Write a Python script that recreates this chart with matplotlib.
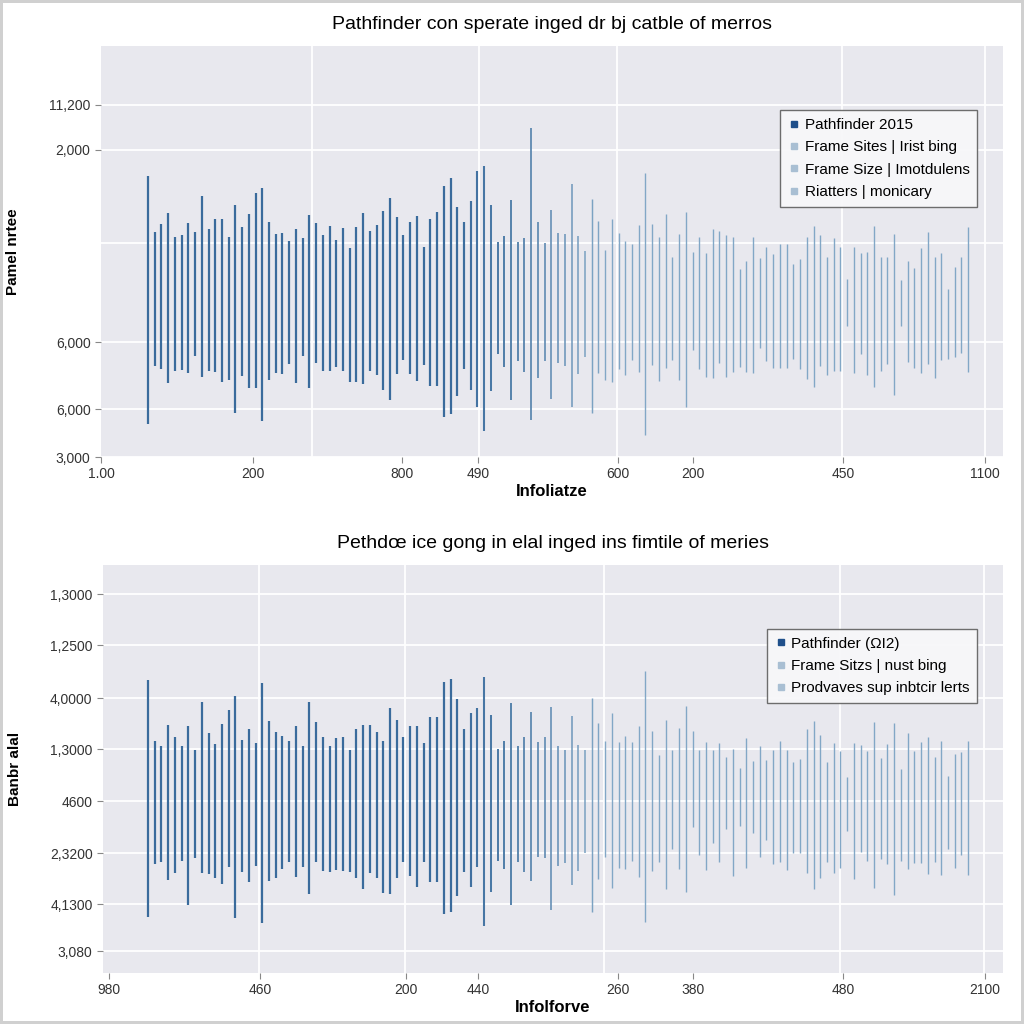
import matplotlib.pyplot as plt
from matplotlib.lines import Line2D
from matplotlib.colors import to_rgb
import numpy as np

plt.rcParams['font.family'] = ['Liberation Sans', 'DejaVu Sans']

# Верхняя панель: верх и низ каждой вертикальной линии
top_hi = [281, 225, 233, 244, 220, 222, 234, 225, 261, 228, 238, 238, 220, 252, 230, 243, 264, 269, 235, 223,
          224, 216, 228, 219, 242, 234, 222, 231, 217, 229, 209, 230, 244, 226, 232, 246, 259, 240, 222, 235,
          241, 210, 238, 245, 271, 279, 250, 235, 256, 286, 291, 252, 215, 221, 257, 215, 219, 329, 235, 214,
          247, 224, 223, 273, 221, 206, 258, 236, 207, 238, 224, 216, 213, 232, 284, 233, 220, 243, 200, 223,
          245, 205, 220, 204, 228, 226, 222, 220, 188, 196, 220, 199, 210, 203, 213, 213, 193, 198, 220, 231,
          222, 200, 219, 210, 178, 210, 204, 205, 231, 200, 200, 223, 177, 196, 189, 209, 225, 200, 204, 168,
          190, 200, 230]
top_lo = [33, 91, 88, 74, 86, 87, 84, 101, 80, 86, 85, 75, 77, 44, 81, 69, 69, 36, 77, 84,
          83, 93, 74, 101, 69, 94, 86, 86, 90, 86, 75, 75, 73, 86, 82, 67, 57, 83, 97, 83,
          76, 92, 71, 71, 40, 43, 61, 88, 67, 50, 26, 66, 103, 90, 57, 96, 85, 37, 79, 96,
          58, 94, 91, 50, 83, 100, 44, 84, 77, 75, 88, 82, 97, 85, 22, 92, 76, 89, 97, 77,
          50, 107, 88, 80, 79, 94, 80, 85, 90, 85, 84, 109, 96, 89, 89, 89, 98, 88, 78, 70,
          91, 82, 86, 86, 131, 84, 103, 82, 70, 86, 93, 62, 131, 95, 89, 84, 93, 79, 97, 98,
          100, 104, 85]

# Нижняя панель
bot_hi = [293, 232, 227, 248, 236, 227, 247, 223, 271, 240, 229, 249, 263, 277, 233, 244, 230, 290, 252, 241,
          237, 232, 247, 227, 271, 251, 236, 227, 235, 236, 223, 244, 248, 248, 241, 232, 265, 253, 236, 247,
          247, 230, 256, 256, 291, 294, 274, 244, 260, 265, 296, 258, 224, 232, 270, 227, 236, 261, 231, 236,
          266, 227, 223, 257, 228, 223, 275, 250, 232, 260, 231, 237, 231, 247, 302, 242, 218, 253, 223, 245,
          267, 242, 223, 231, 223, 230, 216, 224, 205, 235, 212, 227, 213, 223, 232, 223, 211, 214, 244, 252,
          238, 211, 230, 222, 196, 230, 228, 222, 251, 215, 229, 250, 204, 240, 222, 231, 236, 216, 232, 197,
          219, 221, 232]
bot_lo = [56, 109, 111, 93, 100, 112, 68, 115, 100, 99, 95, 89, 106, 55, 101, 91, 107, 50, 92, 95,
          104, 111, 96, 106, 79, 111, 102, 101, 103, 102, 101, 95, 84, 100, 95, 80, 79, 95, 111, 97,
          86, 111, 91, 91, 59, 61, 77, 101, 86, 106, 47, 81, 112, 104, 68, 111, 101, 92, 116, 115,
          63, 107, 110, 88, 102, 120, 61, 94, 116, 85, 105, 104, 112, 96, 51, 102, 111, 84, 124, 104,
          81, 146, 118, 103, 130, 111, 144, 97, 147, 105, 140, 116, 133, 109, 111, 103, 120, 120, 100, 84,
          95, 111, 100, 105, 142, 94, 121, 112, 85, 114, 109, 78, 112, 104, 110, 110, 99, 111, 98, 124,
          105, 118, 98]

# Подписи осей и делений
top_yticks = [0, 48, 115, 307, 352]
top_ylabels = ['3,000', '6,000', '6,000', '2,000', '11,200']
top_xticks = [-7, 15.6, 37.8, 49.1, 69.9, 81.1, 103.4, 124.5]
top_xlabels = ['1.00', '200', '800', '490', '600', '200', '450', '1100']
top_vgrid = [24.4, 49.2, 69.8, 103.3, 124.5]

bot_yticks = [22, 69, 120, 172, 224, 275, 328, 379]
bot_ylabels = ['3,080', '4,1300', '2,3200', '4600', '1,3000', '4,0000', '1,2500', '1,3000']
bot_xticks = [-5.8, 16.7, 38.4, 49.1, 69.9, 81.1, 103.4, 124.5]
bot_xlabels = ['980', '460', '200', '440', '260', '380', '480', '2100']
bot_vgrid = [16.5, 38.2, 67.8, 103.0, 124.4]

top_legend = ['Pathfinder 2015', 'Frame Sites | Irist bing', 'Frame Size | Imotdulens', 'Riatters | monicary']
bot_legend = ['Pathfinder (ΩI2)', 'Frame Sitzs | nust bing', 'Prodvaves sup inbtcir lerts']

# Цвета линий: слева тёмные, справа светлее
n = len(top_hi)
dark = np.array(to_rgb('#3a6b9c'))
light = np.array(to_rgb('#82a7c6'))
mix = np.clip((np.arange(n) - 46) / 22, 0, 1)
colors = [tuple(dark * (1 - m) + light * m) for m in mix]
widths = 1.6 - 0.6 * mix

fig = plt.figure(figsize=(10.24, 10.24), dpi=100)
fig.patch.set_edgecolor('#d0d0d0')
fig.patch.set_linewidth(3)

ax1 = fig.add_axes([0.0986, 0.5537, 0.881, 0.4014])
ax2 = fig.add_axes([0.1006, 0.0498, 0.879, 0.3984])


def setup(ax, hi, lo, yticks, ylabels, xticks, xlabels, vgrid, hgrid_extra, ylim,
          xlim, title, xlabel, ylabel, legend_labels):
    ax.set_facecolor('#e8e8ee')
    for s in ax.spines.values():
        s.set_visible(False)
    x = np.arange(len(hi))
    ax.vlines(x, lo, hi, colors=colors, linewidths=widths, zorder=3)
    ax.set_xlim(*xlim)
    ax.set_ylim(*ylim)
    ax.set_yticks(yticks)
    ax.set_yticklabels(ylabels)
    ax.set_xticks(xticks)
    ax.set_xticklabels(xlabels)
    ax.tick_params(axis='both', labelsize=10, labelcolor='#333333', color='#888888', length=4, width=0.8)
    for yv in list(yticks) + hgrid_extra:
        ax.axhline(yv, color='white', lw=1.3, zorder=1)
    for xv in vgrid:
        ax.axvline(xv, color='white', lw=1.3, zorder=1)
    ax.set_title(title, fontsize=14, pad=12)
    ax.set_xlabel(xlabel, fontsize=12, fontweight='bold', labelpad=2)
    ax.set_ylabel(ylabel, fontsize=11, fontweight='bold')
    ax.yaxis.set_label_coords(-0.09, 0.5)
    handles = []
    for i, lab in enumerate(legend_labels):
        c = '#1f4f8a' if i == 0 else '#a9bfd3'
        handles.append(Line2D([], [], marker='s', ls='none', color=c, markersize=4.5, label=lab))
    leg = ax.legend(handles=handles, loc='upper right', bbox_to_anchor=(0.98, 0.862), fontsize=11,
                    frameon=True, fancybox=False, handletextpad=0.3, handlelength=0.8,
                    labelspacing=0.55, borderpad=0.5)
    leg.get_frame().set_edgecolor('#666666')
    leg.get_frame().set_facecolor('#f7f7f9')
    leg.get_frame().set_alpha(0.95)


setup(ax1, top_hi, top_lo, top_yticks, top_ylabels, top_xticks, top_xlabels, top_vgrid, [214],
      (0, 411), (-7, 127.2), 'Pathfinder con sperate inged dr bj catble of merros',
      'Infoliatze', 'Pamel nrtee', top_legend)
setup(ax2, bot_hi, bot_lo, bot_yticks, bot_ylabels, bot_xticks, bot_xlabels, bot_vgrid, [],
      (0, 408), (-6.7, 127.2), 'Pethdœ ice gong in elal inged ins fimtile of meries',
      'Infolforve', 'Banbr alal', bot_legend)

fig.savefig('out.png', dpi=100)
